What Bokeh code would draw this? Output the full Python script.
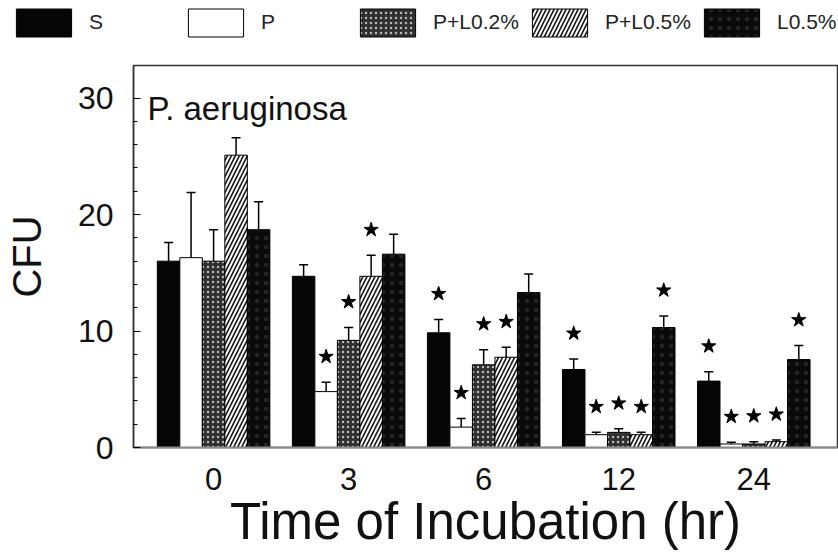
from bokeh.plotting import figure
from bokeh.models import Range1d, FixedTicker, Whisker, TeeHead, ColumnDataSource, Legend, LegendItem, Label
from bokeh.layouts import column, row
from bokeh.embed import file_html
from bokeh.resources import INLINE

# ---------------- data ----------------
times = ["0", "3", "6", "12", "24"]
series = ["S", "P", "P+L0.2%", "P+L0.5%", "L0.5%"]

s_mean = [16.0, 14.7, 9.85, 6.7, 5.7]
s_err = [1.6, 1.0, 1.15, 0.9, 0.8]
s_sig = [0, 0, 1, 1, 1]

p_mean = [16.3, 4.8, 1.75, 1.1, 0.3]
p_err = [5.6, 0.8, 0.75, 0.2, 0.15]
p_sig = [0, 1, 1, 1, 1]

pl02_mean = [16.0, 9.2, 7.1, 1.3, 0.3]
pl02_err = [2.7, 1.1, 1.3, 0.3, 0.2]
pl02_sig = [0, 1, 1, 1, 1]

pl05_mean = [25.1, 14.7, 7.75, 1.1, 0.5]
pl05_err = [1.5, 1.8, 0.85, 0.2, 0.15]
pl05_sig = [0, 1, 1, 1, 1]

l05_mean = [18.7, 16.6, 13.3, 10.3, 7.55]
l05_err = [2.4, 1.7, 1.6, 1.0, 1.2]
l05_sig = [0, 0, 0, 1, 1]

y_ticks = [0, 10, 20, 30]

means = [s_mean, p_mean, pl02_mean, pl05_mean, l05_mean]
errs = [s_err, p_err, pl02_err, pl05_err, l05_err]
sigs = [s_sig, p_sig, pl02_sig, pl05_sig, l05_sig]

# ---------------- styles ----------------
styles = [
    dict(fill_color="#050505", line_color="black"),
    dict(fill_color="white", line_color="black"),
    dict(fill_color="#303030", line_color="black", hatch_pattern="dot",
         hatch_color="#b8b8b8", hatch_scale=5, hatch_weight=1),
    dict(fill_color="white", line_color="black", hatch_pattern="right_diagonal_line",
         hatch_color="#111111", hatch_scale=8, hatch_weight=1.6),
    dict(fill_color="#0a0a0a", line_color="black", hatch_pattern="dot",
         hatch_color="#252525", hatch_scale=9, hatch_weight=1),
]

FONT = "Liberation Sans"
TXT = "#111111"
BAR_W = 1 / 6
STAR_GAP = 2.2

# ---------------- main plot ----------------
p = figure(width=838, height=514, x_range=Range1d(-0.593, 4.62), y_range=Range1d(0, 32.8),
           output_backend="svg", toolbar_location=None,
           min_border_left=133, min_border_right=1, min_border_top=21, min_border_bottom=111)
p.xgrid.visible = False
p.ygrid.visible = False
p.outline_line_color = "#333333"
p.outline_line_width = 1.5
p.background_fill_color = "white"
p.border_fill_color = "white"

for i in range(len(series)):
    xs = [g + (i - 2) * BAR_W for g in range(len(times))]
    upper = [m + e for m, e in zip(means[i], errs[i])]
    src = ColumnDataSource(dict(x=xs, top=means[i], upper=upper))
    p.vbar(x="x", top="top", width=BAR_W, source=src, line_width=1, **styles[i])
    wk = Whisker(base="x", lower="top", upper="upper", source=src, dimension="height",
                 line_color="black", line_width=1.5,
                 upper_head=TeeHead(size=9, line_color="black", line_width=1.5), lower_head=None)
    p.add_layout(wk)
    sx = [x for x, s in zip(xs, sigs[i]) if s]
    sy = [u + STAR_GAP for u, s in zip(upper, sigs[i]) if s]
    p.scatter(sx, sy, marker="star", size=15, fill_color="black", line_color="black")

p.add_layout(Label(x=-0.49, y=29.1, text="P. aeruginosa", text_font=FONT,
                   text_font_size="33px", text_color=TXT, text_baseline="alphabetic"))

# y axis
p.yaxis.ticker = FixedTicker(ticks=y_ticks, minor_ticks=[v for v in range(2, 30, 2) if v % 10])
p.yaxis.major_tick_in = 7
p.yaxis.major_tick_out = 0
p.yaxis.minor_tick_in = 4
p.yaxis.minor_tick_out = 0
p.yaxis.axis_line_color = "#333333"
p.yaxis.axis_line_width = 1.5
p.yaxis.major_label_text_font = FONT
p.yaxis.major_label_text_font_size = "32px"
p.yaxis.major_label_text_color = TXT
p.yaxis.major_label_standoff = 20
p.yaxis.axis_label = "CFU"
p.yaxis.axis_label_text_font = FONT
p.yaxis.axis_label_text_font_size = "40px"
p.yaxis.axis_label_text_font_style = "normal"
p.yaxis.axis_label_text_color = TXT
p.yaxis.axis_label_standoff = 26

# x axis
p.xaxis.ticker = FixedTicker(ticks=list(range(len(times))))
p.xaxis.major_label_overrides = {i: t for i, t in enumerate(times)}
p.xaxis.major_tick_in = 0
p.xaxis.major_tick_out = 0
p.xaxis.minor_tick_in = 0
p.xaxis.minor_tick_out = 0
p.xaxis.axis_line_color = "#8a8a8a"
p.xaxis.axis_line_width = 2
p.xaxis.major_label_text_font = FONT
p.xaxis.major_label_text_font_size = "31px"
p.xaxis.major_label_text_color = TXT
p.xaxis.major_label_standoff = 20
p.xaxis.axis_label = "Time of Incubation (hr)"
p.xaxis.axis_label_text_font = FONT
p.xaxis.axis_label_text_font_size = "51px"
p.xaxis.axis_label_text_font_style = "normal"
p.xaxis.axis_label_text_color = TXT
p.xaxis.axis_label_standoff = 0

# ---------------- legend strip (separate figure) ----------------
lg = figure(width=838, height=44, x_range=Range1d(0, 838), y_range=Range1d(0, 44),
            output_backend="svg", toolbar_location=None, x_axis_type=None, y_axis_type=None,
            min_border_left=0, min_border_right=0, min_border_top=0, min_border_bottom=0)
lg.xgrid.visible = False
lg.ygrid.visible = False
lg.outline_line_color = None
lg.background_fill_color = "white"
lg.border_fill_color = "white"
items = []
for i, name in enumerate(series):
    r = lg.vbar(x=[-1000], top=[0], width=1, line_width=1, **styles[i])
    items.append(LegendItem(label=name, renderers=[r]))
leg = Legend(items=items, location=(9, 4.5), orientation="horizontal",
             glyph_width=69, glyph_height=35, label_standoff=11, label_width=92,
             spacing=0, padding=0, margin=0, border_line_color=None, background_fill_alpha=0,
             label_text_font=FONT, label_text_font_size="21px", label_text_color="#222222",
             label_text_baseline="top")
lg.add_layout(leg)

layout = column(row(lg), p, spacing=0)
open("out.html", "w").write(file_html(layout, INLINE))
